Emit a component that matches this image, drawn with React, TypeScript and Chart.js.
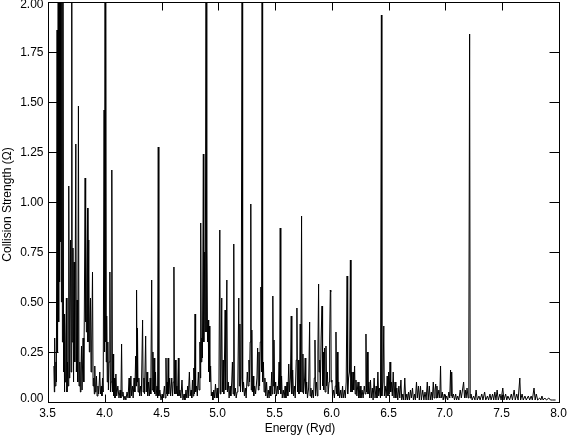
import React, { useEffect, useRef } from "react";
import { Chart, registerables } from "chart.js";

Chart.register(...registerables);

const xTickValues = [3.5, 4.0, 4.5, 5.0, 5.5, 6.0, 6.5, 7.0, 7.5, 8.0];
const yTickValues = [0, 0.25, 0.5, 0.75, 1.0, 1.25, 1.5, 1.75, 2.0];
const xTitle = "Energy (Ryd)";
const yTitle = "Collision Strength (\u03A9)";

// [energy (Ryd), collision strength]
const band35: [number, number][] = [
  [3.552, 0.18], [3.556, 0.05], [3.559, 0.32], [3.563, 0.08], [3.570, 0.2], [3.574, 0.1],
  [3.58, 1.86], [3.584, 0.25], [3.59, 2.6], [3.594, 0.4], [3.598, 3.5], [3.602, 0.6],
  [3.606, 4.0], [3.61, 0.8], [3.614, 3.0], [3.618, 0.5], [3.622, 2.5], [3.627, 0.3],
  [3.632, 2.2], [3.637, 0.15], [3.642, 0.3], [3.645, 0.05], [3.647, 0.44], [3.652, 0.1],
  [3.657, 0.3], [3.662, 0.52], [3.667, 0.05], [3.672, 0.2], [3.678, 0.08], [3.683, 1.08],
  [3.688, 0.12], [3.692, 0.4], [3.698, 0.81], [3.703, 0.15], [3.709, 2.5], [3.713, 0.3],
  [3.72, 0.77], [3.725, 0.1], [3.73, 0.7], [3.736, 0.2], [3.745, 1.29], [3.75, 0.15],
  [3.756, 0.51], [3.762, 0.1], [3.768, 1.48], [3.773, 0.08], [3.78, 0.2], [3.785, 0.05],
  [3.79, 0.15], [3.795, 0.28], [3.8, 0.06], [3.809, 0.32], [3.815, 0.1], [3.82, 0.45],
  [3.827, 1.12], [3.83, 0.4], [3.833, 0.89], [3.838, 0.35], [3.843, 0.6], [3.848, 0.97],
  [3.852, 0.3], [3.859, 0.81], [3.864, 0.25], [3.869, 0.4], [3.874, 0.52], [3.879, 0.15],
  [3.885, 0.3], [3.892, 0.65], [3.897, 0.08], [3.903, 0.12], [3.908, 0.04], [3.912, 0.18],
  [3.917, 0.05], [3.922, 0.08], [3.927, 0.13], [3.932, 0.03], [3.94, 0.08], [3.946, 0.04],
  [3.956, 0.15], [3.962, 0.04], [3.97, 0.08], [3.975, 0.03], [3.98, 0.12], [3.986, 0.05],
  [3.994, 1.46], [3.998, 0.25],
];

const band40: [number, number][] = [
  [4.003, 3.0], [4.006, 0.3], [4.01, 2.4], [4.013, 0.2], [4.017, 0.43], [4.022, 0.1],
  [4.027, 0.3], [4.032, 0.06], [4.038, 0.2], [4.045, 0.65], [4.05, 0.05], [4.056, 0.1],
  [4.062, 1.16], [4.067, 0.05], [4.073, 0.24], [4.078, 0.03], [4.085, 0.12], [4.09, 0.02],
  [4.098, 0.14], [4.105, 0.03], [4.115, 0.08], [4.125, 0.02], [4.135, 0.06], [4.142, 0.02],
  [4.148, 0.29], [4.153, 0.03], [4.16, 0.05], [4.168, 0.01], [4.178, 0.03], [4.186, 0.01],
  [4.196, 0.05], [4.205, 0.02], [4.214, 0.12], [4.22, 0.02], [4.23, 0.13], [4.236, 0.03],
  [4.244, 0.08], [4.25, 0.02], [4.258, 0.12], [4.265, 0.05], [4.272, 0.23], [4.276, 0.08],
  [4.28, 0.56], [4.284, 0.1], [4.288, 0.37], [4.293, 0.05], [4.3, 0.12], [4.307, 0.03],
  [4.315, 0.08], [4.322, 0.03], [4.333, 0.41], [4.338, 0.05], [4.345, 0.12], [4.35, 0.04],
  [4.36, 0.33], [4.365, 0.05], [4.372, 0.15], [4.378, 0.03], [4.386, 0.1], [4.393, 0.03],
  [4.4, 0.12], [4.405, 0.04], [4.413, 0.61], [4.418, 0.06], [4.424, 0.25], [4.429, 0.05],
  [4.434, 0.22], [4.44, 0.04], [4.447, 0.15], [4.452, 0.03], [4.46, 0.08], [4.465, 0.02],
  [4.471, 1.275], [4.476, 0.03], [4.485, 0.06], [4.495, 0.01],
];

const band45: [number, number][] = [
  [4.505, 0.04], [4.515, 0.02], [4.525, 0.08], [4.532, 0.02], [4.539, 0.22], [4.544, 0.04],
  [4.549, 0.1], [4.553, 0.03], [4.558, 0.22], [4.563, 0.04], [4.572, 0.12], [4.58, 0.03],
  [4.59, 0.12], [4.597, 0.03], [4.603, 0.1], [4.609, 0.675], [4.614, 0.04], [4.622, 0.21],
  [4.627, 0.04], [4.635, 0.08], [4.641, 0.03], [4.648, 0.22], [4.653, 0.03], [4.662, 0.06],
  [4.67, 0.02], [4.68, 0.11], [4.688, 0.01], [4.698, 0.04], [4.706, 0.01], [4.715, 0.06],
  [4.722, 0.02], [4.73, 0.08], [4.735, 0.02], [4.745, 0.15], [4.752, 0.03], [4.76, 0.06],
  [4.766, 0.02], [4.772, 0.11], [4.778, 0.03], [4.784, 0.17], [4.789, 0.04], [4.795, 0.44],
  [4.8, 0.05], [4.808, 0.08], [4.815, 0.03], [4.824, 0.15], [4.83, 0.06], [4.838, 0.3],
  [4.842, 0.12], [4.845, 0.895], [4.85, 0.2], [4.855, 0.32], [4.86, 0.22], [4.868, 1.24],
  [4.872, 0.3], [4.88, 0.75], [4.885, 0.35], [4.892, 2.5], [4.896, 0.35], [4.9, 0.77],
  [4.905, 0.3], [4.911, 0.41], [4.915, 0.15], [4.92, 0.38], [4.925, 0.1], [4.932, 0.18],
  [4.938, 0.03], [4.945, 0.05], [4.952, 0.01], [4.96, 0.06], [4.967, 0.02], [4.975, 0.09],
  [4.982, 0.02], [4.99, 0.07], [4.997, 0.02],
];

const band50: [number, number][] = [
  [5.005, 0.05], [5.013, 0.86], [5.018, 0.04], [5.023, 0.12], [5.03, 0.52], [5.035, 0.05],
  [5.042, 0.21], [5.048, 0.04], [5.055, 0.25], [5.06, 0.46], [5.065, 0.06], [5.075, 0.61],
  [5.08, 0.05], [5.088, 0.1], [5.095, 0.02], [5.103, 0.08], [5.11, 0.03], [5.118, 0.1],
  [5.124, 0.2], [5.13, 0.04], [5.136, 0.79], [5.141, 0.03], [5.15, 0.07], [5.157, 0.02],
  [5.165, 0.05], [5.172, 0.1], [5.18, 0.52], [5.185, 0.08], [5.19, 0.39], [5.195, 0.05],
  [5.201, 0.12], [5.21, 2.6], [5.214, 0.05], [5.222, 0.1], [5.23, 0.03], [5.238, 0.07],
  [5.245, 0.02], [5.255, 0.15], [5.262, 0.08], [5.27, 0.21], [5.275, 0.1], [5.28, 0.3],
  [5.286, 0.99], [5.29, 0.06], [5.295, 0.36], [5.3, 0.05], [5.306, 0.13], [5.312, 0.03],
  [5.32, 0.08], [5.328, 0.04], [5.34, 0.12], [5.346, 0.27], [5.352, 0.06], [5.358, 0.25],
  [5.363, 0.08], [5.369, 0.3], [5.375, 0.575], [5.38, 0.15], [5.386, 2.8], [5.39, 0.1],
  [5.397, 0.2], [5.403, 0.05], [5.41, 0.12], [5.418, 0.03], [5.425, 0.1], [5.432, 0.02],
  [5.44, 0.06], [5.447, 0.02], [5.455, 0.08], [5.462, 0.03], [5.47, 0.15], [5.475, 0.04],
  [5.48, 0.53], [5.485, 0.08], [5.49, 0.31], [5.496, 0.04],
];

const band55: [number, number][] = [
  [5.505, 0.1], [5.512, 0.03], [5.52, 0.08], [5.527, 0.04], [5.535, 0.2], [5.54, 0.06],
  [5.545, 0.87], [5.55, 0.04], [5.557, 0.13], [5.563, 0.02], [5.572, 0.06], [5.58, 0.02],
  [5.588, 0.08], [5.595, 0.02], [5.605, 0.1], [5.612, 0.03], [5.62, 0.19], [5.627, 0.05],
  [5.635, 0.12], [5.642, 0.43], [5.647, 0.04], [5.655, 0.16], [5.662, 0.03], [5.67, 0.08],
  [5.677, 0.02], [5.686, 0.21], [5.692, 0.47], [5.697, 0.05], [5.704, 0.21], [5.71, 0.04],
  [5.716, 0.12], [5.721, 0.39], [5.726, 0.05], [5.733, 0.93], [5.738, 0.05], [5.745, 0.24],
  [5.75, 0.04], [5.76, 0.12], [5.765, 0.22], [5.77, 0.04], [5.778, 0.1], [5.785, 0.02],
  [5.795, 0.07], [5.804, 0.4], [5.808, 0.03], [5.815, 0.07], [5.822, 0.02], [5.83, 0.06],
  [5.838, 0.02], [5.845, 0.12], [5.851, 0.31], [5.856, 0.03], [5.865, 0.1], [5.872, 0.03],
  [5.877, 0.25], [5.883, 0.59], [5.887, 0.15], [5.893, 0.21], [5.898, 0.06], [5.905, 0.32],
  [5.913, 0.48], [5.918, 0.08], [5.923, 0.25], [5.928, 0.06], [5.935, 0.27], [5.94, 0.05],
  [5.948, 0.28], [5.953, 0.08], [5.96, 0.15], [5.967, 0.04], [5.975, 0.1], [5.98, 0.3],
  [5.986, 0.56], [5.99, 0.55], [5.994, 0.1],
];

const band60: [number, number][] = [
  [6.0, 0.11], [6.006, 0.03], [6.015, 0.06], [6.022, 0.02], [6.03, 0.08], [6.036, 0.35],
  [6.04, 0.04], [6.048, 0.25], [6.053, 0.03], [6.06, 0.1], [6.068, 0.02], [6.078, 0.06],
  [6.086, 0.02], [6.094, 0.08], [6.1, 0.02], [6.11, 0.06], [6.118, 0.02], [6.126, 0.1],
  [6.134, 0.63], [6.139, 0.04], [6.147, 0.12], [6.155, 0.15], [6.163, 0.71], [6.168, 0.05],
  [6.175, 0.15], [6.18, 0.05], [6.186, 0.15], [6.192, 0.06], [6.2, 0.18], [6.205, 0.04],
  [6.212, 0.11], [6.22, 0.03], [6.23, 0.1], [6.238, 0.02], [6.248, 0.08], [6.256, 0.02],
  [6.266, 0.06], [6.275, 0.02], [6.285, 0.08], [6.293, 0.04], [6.3, 0.34], [6.305, 0.05],
  [6.313, 0.25], [6.318, 0.04], [6.326, 0.1], [6.333, 0.02], [6.34, 0.11], [6.347, 0.02],
  [6.356, 0.07], [6.363, 0.01], [6.372, 0.12], [6.38, 0.02], [6.39, 0.08], [6.397, 0.02],
  [6.405, 0.15], [6.412, 0.03], [6.42, 0.07], [6.428, 0.02], [6.436, 1.935], [6.44, 0.03],
  [6.45, 0.1], [6.457, 0.38], [6.462, 0.03], [6.47, 0.08], [6.478, 0.02], [6.487, 0.13],
  [6.494, 0.03],
];

const band65: [number, number][] = [
  [6.5, 0.15], [6.505, 0.04], [6.512, 0.2], [6.518, 0.05], [6.526, 0.1], [6.532, 0.03],
  [6.54, 0.15], [6.547, 0.02], [6.556, 0.1], [6.563, 0.02], [6.572, 0.07], [6.58, 0.01],
  [6.59, 0.08], [6.598, 0.02], [6.608, 0.11], [6.615, 0.01], [6.625, 0.04], [6.633, 0.01],
  [6.642, 0.12], [6.65, 0.01], [6.66, 0.04], [6.667, 0.01], [6.675, 0.05], [6.683, 0.01],
  [6.692, 0.06], [6.7, 0.02], [6.71, 0.07], [6.718, 0.01], [6.728, 0.04], [6.735, 0.01],
  [6.745, 0.1], [6.752, 0.02], [6.762, 0.08], [6.77, 0.01], [6.78, 0.08], [6.788, 0.01],
  [6.8, 0.06], [6.81, 0.01], [6.82, 0.05], [6.83, 0.01], [6.84, 0.1], [6.848, 0.01],
  [6.858, 0.08], [6.866, 0.01], [6.876, 0.05], [6.884, 0.01], [6.893, 0.1], [6.9, 0.02],
  [6.908, 0.06], [6.914, 0.09], [6.92, 0.02], [6.925, 0.08], [6.932, 0.02], [6.942, 0.06],
  [6.95, 0.02], [6.957, 0.18], [6.962, 0.02], [6.972, 0.05], [6.98, 0.01], [6.99, 0.04],
];

const band70: [number, number][] = [
  [7.0, 0.01], [7.01, 0.03], [7.02, 0.01], [7.03, 0.05], [7.038, 0.02], [7.045, 0.16],
  [7.05, 0.03], [7.055, 0.15], [7.06, 0.02], [7.07, 0.04], [7.08, 0.01], [7.09, 0.04],
  [7.098, 0.01], [7.108, 0.03], [7.118, 0.01], [7.13, 0.06], [7.14, 0.02], [7.16, 0.1],
  [7.168, 0.02], [7.175, 0.06], [7.182, 0.02], [7.19, 0.07], [7.2, 0.02], [7.206, 0.3],
  [7.213, 1.84], [7.218, 0.02], [7.225, 0.04], [7.235, 0.01], [7.248, 0.03], [7.26, 0.01],
  [7.27, 0.06], [7.28, 0.01], [7.295, 0.03], [7.305, 0.01], [7.32, 0.04], [7.33, 0.01],
  [7.345, 0.05], [7.355, 0.01], [7.37, 0.03], [7.38, 0.01], [7.392, 0.04], [7.402, 0.01],
  [7.415, 0.04], [7.425, 0.01], [7.435, 0.05], [7.445, 0.01], [7.455, 0.06], [7.465, 0.01],
  [7.48, 0.04], [7.49, 0.01],
];

const band75: [number, number][] = [
  [7.505, 0.07], [7.515, 0.01], [7.53, 0.04], [7.54, 0.01], [7.55, 0.03], [7.565, 0.01],
  [7.58, 0.04], [7.59, 0.01], [7.605, 0.06], [7.615, 0.01], [7.628, 0.04], [7.64, 0.01],
  [7.655, 0.12], [7.662, 0.01], [7.675, 0.04], [7.685, 0.01], [7.7, 0.03], [7.712, 0.01],
  [7.73, 0.03], [7.742, 0.01], [7.755, 0.03], [7.765, 0.01], [7.78, 0.07], [7.79, 0.01],
  [7.8, 0.04], [7.812, 0.01], [7.83, 0.02], [7.84, 0.01], [7.85, 0.03], [7.86, 0.01],
  [7.875, 0.02], [7.89, 0.01], [7.91, 0.02], [7.925, 0.01], [7.945, 0.01], [7.97, 0.01],
];

const FONT = '12px "Liberation Sans", Arial, Helvetica, sans-serif';

const idlFrame = {
  id: "idlFrame",
  afterDraw(chart: any) {
    const { ctx, chartArea: a, scales } = chart;
    const L = Math.round(a.left) + 0.5;
    const R = Math.round(a.right) + 0.5;
    const T = Math.round(a.top) + 0.5;
    const B = Math.round(a.bottom) + 0.5;
    ctx.save();
    ctx.strokeStyle = "#000";
    ctx.lineWidth = 1;
    ctx.strokeRect(L, T, R - L, B - T);
    ctx.fillStyle = "#000";
    ctx.font = FONT;
    // x ticks
    ctx.textAlign = "center";
    ctx.textBaseline = "middle";
    xTickValues.forEach((v) => {
      const px = Math.round(scales.x.getPixelForValue(v)) + 0.5;
      ctx.beginPath();
      ctx.moveTo(px, B);
      ctx.lineTo(px, B - 8);
      ctx.moveTo(px, T);
      ctx.lineTo(px, T + 8);
      ctx.stroke();
      ctx.fillText(v.toFixed(1), px - 1, B + 11);
    });
    // y ticks
    ctx.textAlign = "right";
    yTickValues.forEach((v) => {
      const py = Math.round(scales.y.getPixelForValue(v)) + 0.5;
      ctx.beginPath();
      ctx.moveTo(L, py);
      ctx.lineTo(L + 10, py);
      ctx.moveTo(R, py);
      ctx.lineTo(R - 10, py);
      ctx.stroke();
      const ty = Math.min(Math.max(py, 5), 399);
      ctx.fillText(v.toFixed(2), L - 5, ty);
    });
    // titles
    ctx.textAlign = "center";
    ctx.fillText(xTitle, (L + R) / 2 - 4, 429);
    ctx.translate(8, (T + B) / 2 + 2);
    ctx.rotate(-Math.PI / 2);
    ctx.fillText(yTitle, 0, 0);
    ctx.restore();
  },
};

export default function App() {
  const ref = useRef<HTMLCanvasElement | null>(null);
  useEffect(() => {
    document.body.style.margin = "0";
    const all = [...band35, ...band40, ...band45, ...band50, ...band55, ...band60, ...band65, ...band70, ...band75];
    const chart = new Chart(ref.current as HTMLCanvasElement, {
      type: "line",
      data: {
        datasets: [
          {
            data: all.map(([x, y]) => ({ x, y })),
            borderColor: "#000",
            borderWidth: 1,
            pointRadius: 0,
            tension: 0,
            fill: false,
          },
        ],
      },
      options: {
        responsive: false,
        animation: false,
        layout: { padding: { left: 48, right: 9, top: 2, bottom: 35 } },
        plugins: { legend: { display: false }, tooltip: { enabled: false } },
        scales: {
          x: { type: "linear", min: 3.5, max: 8.0, display: false },
          y: { type: "linear", min: 0, max: 2.0, display: false },
        },
      },
      plugins: [idlFrame],
    });
    return () => chart.destroy();
  }, []);
  return (
    <div style={{ position: "fixed", left: 0, top: 0, width: 568, height: 437, background: "#fff" }}>
      <canvas ref={ref} width={568} height={437} />
    </div>
  );
}
